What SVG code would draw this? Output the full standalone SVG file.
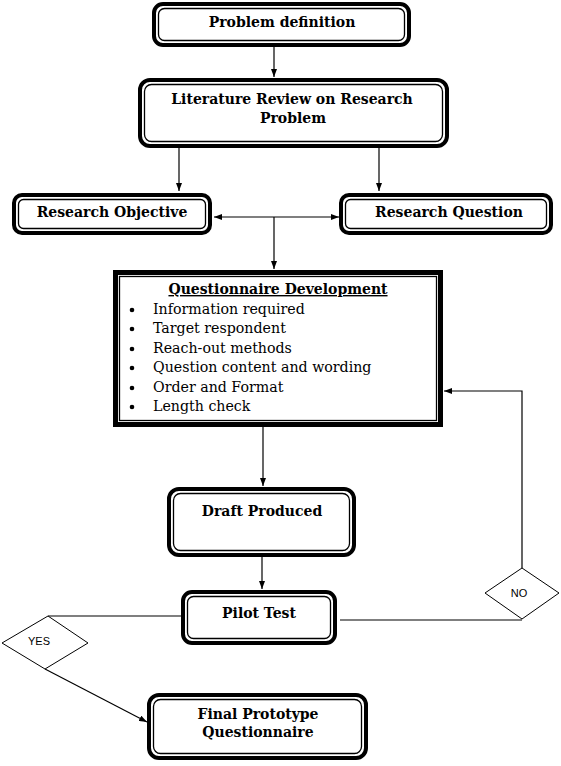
<svg xmlns="http://www.w3.org/2000/svg" width="561" height="766" viewBox="0 0 561 766">
<style>
.o{fill:#fff;stroke:#000;stroke-width:4}
.i{fill:none;stroke:#000;stroke-width:1.3}
.t{font-family:"DejaVu Serif","Liberation Serif",serif;font-weight:bold;font-size:14px;fill:#000;text-anchor:middle}
.b{font-family:"DejaVu Serif","Liberation Serif",serif;font-size:14.2px;fill:#000}
.s{font-family:"Liberation Sans",Arial,sans-serif;font-size:11px;fill:#000;text-anchor:middle}
.c{fill:none;stroke:#000;stroke-width:1.2}
.d{fill:#fff;stroke:#000;stroke-width:1}
</style>
<defs>
<marker id="a" viewBox="0 0 8 6" refX="8" refY="3" markerWidth="8" markerHeight="6" markerUnits="userSpaceOnUse" orient="auto-start-reverse"><path d="M0,0 L8,3 L0,6 z" fill="#000"/></marker>
</defs>
<rect width="561" height="766" fill="#fff"/>
<g id="connectors">
<line class="c" x1="274" y1="47" x2="274" y2="77" marker-end="url(#a)"/>
<line class="c" x1="179" y1="148" x2="179" y2="191" marker-end="url(#a)"/>
<line class="c" x1="379" y1="148" x2="379" y2="191" marker-end="url(#a)"/>
<line class="c" x1="214" y1="217" x2="339" y2="217" marker-start="url(#a)" marker-end="url(#a)"/>
<line class="c" x1="274" y1="217" x2="274" y2="269" marker-end="url(#a)"/>
<line class="c" x1="263" y1="427" x2="263" y2="486" marker-end="url(#a)"/>
<line class="c" x1="262" y1="557" x2="262" y2="589" marker-end="url(#a)"/>
<line class="c" x1="182" y1="616" x2="48" y2="616"/>
<line class="c" x1="45" y1="669" x2="147" y2="722" marker-end="url(#a)"/>
<line class="c" x1="340" y1="620" x2="522" y2="620"/>
<polyline class="c" points="522,568 522,391 444,391" marker-end="url(#a)"/>
</g>
<g id="problem">
<rect class="o" x="154" y="4" width="255" height="41" rx="9"/>
<rect class="i" x="158.5" y="8.5" width="246" height="32" rx="6"/>
<text class="t" x="282" y="27">Problem definition</text>
</g>
<g id="literature">
<rect class="o" x="140" y="80" width="307" height="66" rx="10"/>
<rect class="i" x="144.5" y="84.5" width="298" height="57" rx="7"/>
<text class="t" x="292" y="104">Literature Review on Research</text>
<text class="t" x="293" y="123">Problem</text>
</g>
<g id="objective">
<rect class="o" x="14" y="195" width="196" height="38" rx="8"/>
<rect class="i" x="18.5" y="199.5" width="187" height="29" rx="5"/>
<text class="t" x="112" y="217">Research Objective</text>
</g>
<g id="question">
<rect class="o" x="341" y="195" width="210" height="38" rx="8"/>
<rect class="i" x="345.5" y="199.5" width="201" height="29" rx="5"/>
<text class="t" x="449" y="217">Research Question</text>
</g>
<g id="development">
<rect class="o" x="115.5" y="272.5" width="325" height="152" style="stroke-width:5"/>
<rect class="i" x="119.5" y="276.5" width="317" height="144"/>
<text class="t" x="278" y="294" text-decoration="underline">Questionnaire Development</text>
<g class="b">
<circle cx="132" cy="310" r="2.3"/><text x="153" y="314">Information required</text>
<circle cx="132" cy="329" r="2.3"/><text x="153" y="333">Target respondent</text>
<circle cx="132" cy="349" r="2.3"/><text x="153" y="353">Reach-out methods</text>
<circle cx="132" cy="368" r="2.3"/><text x="153" y="372">Question content and wording</text>
<circle cx="132" cy="388" r="2.3"/><text x="153" y="392">Order and Format</text>
<circle cx="132" cy="407" r="2.3"/><text x="153" y="411">Length check</text>
</g>
</g>
<g id="draft">
<rect class="o" x="169" y="489" width="185" height="66" rx="10"/>
<rect class="i" x="173.5" y="493.5" width="176" height="57" rx="7"/>
<text class="t" x="262" y="516">Draft Produced</text>
</g>
<g id="pilot">
<rect class="o" x="183" y="592" width="152" height="51" rx="9"/>
<rect class="i" x="187.5" y="596.5" width="143" height="42" rx="6"/>
<text class="t" x="259" y="618">Pilot Test</text>
</g>
<g id="final">
<rect class="o" x="149" y="695" width="217" height="63" rx="10"/>
<rect class="i" x="153.5" y="699.5" width="208" height="54" rx="7"/>
<text class="t" x="258" y="719">Final Prototype</text>
<text class="t" x="258" y="737">Questionnaire</text>
</g>
<g id="yes">
<polygon class="d" points="48,616 88,643 45,669 2,643"/>
<text class="s" x="39" y="645">YES</text>
</g>
<g id="no">
<polygon class="d" points="522,568 559,593 522,619 485,593"/>
<text class="s" x="519" y="597">NO</text>
</g>
</svg>
